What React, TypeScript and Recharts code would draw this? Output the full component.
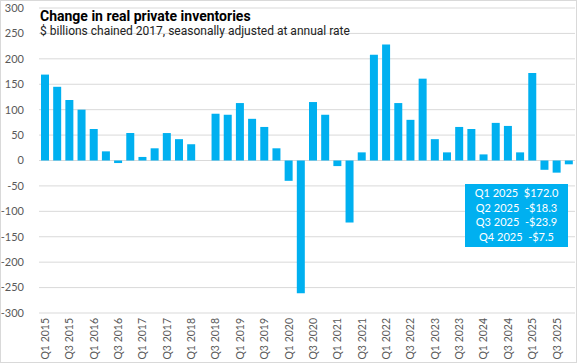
import { Bar, BarChart, CartesianGrid, XAxis, YAxis } from 'recharts'

const QUARTERS = ['Q1', 'Q2', 'Q3', 'Q4']
const YEARS = [2015, 2016, 2017, 2018, 2019, 2020, 2021, 2022, 2023, 2024, 2025]

const VALUES = [
  169, 145, 119, 100,
  62, 18, -5, 54,
  7, 24, 54, 42,
  32, 0, 92, 90,
  113, 82, 66, 24,
  -40, -261, 115, 90,
  -11, -122, 16, 208,
  228, 113, 80, 161,
  42, 16, 66, 62,
  12, 74, 68, 16,
  172.0, -18.3, -23.9, -7.5,
]

const Y_TICKS = [-300, -250, -200, -150, -100, -50, 0, 50, 100, 150, 200, 250, 300]

const NOTE_LINES = ['Q1 2025  $172.0', 'Q2 2025  -$18.3', 'Q3 2025  -$23.9', 'Q4 2025  -$7.5']

const BLUE = '#00B0F0'
const GRID = '#d9d9d9'
const AXIS_FONT = 'Lato, "Noto Sans", sans-serif'

const dados = YEARS.flatMap((ano, i) =>
  QUARTERS.map((q, j) => ({ trimestre: `${q} ${ano}`, valor: VALUES[i * 4 + j] }))
)

function RotatedTick({ x, y, payload }: any) {
  return (
    <text
      x={0}
      y={0}
      transform={`translate(${x},${y - 3}) rotate(-90)`}
      textAnchor="end"
      dy="0.36em"
      fontSize={10.5}
      fontFamily={AXIS_FONT}
      fill="#595959"
    >
      {payload.value}
    </text>
  )
}

export default function App() {
  return (
    <div
      style={{
        position: 'fixed',
        left: 0,
        top: 0,
        width: 577,
        height: 363,
        boxSizing: 'border-box',
        border: `1px solid ${GRID}`,
        background: '#fff',
      }}
    >
      <BarChart
        width={575}
        height={361}
        data={dados}
        margin={{ top: 7, right: 1, left: 0, bottom: 0 }}
      >
        <CartesianGrid vertical={false} stroke={GRID} />
        <XAxis
          dataKey="trimestre"
          interval={1}
          tick={<RotatedTick />}
          tickLine={false}
          axisLine={false}
          height={49}
        />
        <YAxis
          domain={[-300, 300]}
          ticks={Y_TICKS}
          width={38}
          tickLine={false}
          axisLine={false}
          tickMargin={9}
          tick={{ fontSize: 11, fontFamily: AXIS_FONT, fill: '#595959' }}
        />
        <Bar dataKey="valor" fill={BLUE} barSize={8} isAnimationActive={false} />
      </BarChart>

      <div
        style={{
          position: 'absolute',
          left: 39,
          top: 7,
          whiteSpace: 'nowrap',
          fontFamily: 'Roboto, "Noto Sans", sans-serif',
        }}
      >
        <div style={{ fontWeight: 700, fontSize: 14, lineHeight: '16px', color: '#000' }}>
          Change in real private inventories
        </div>
        <div style={{ fontSize: 12, lineHeight: '14px', color: '#222' }}>
          $ billions chained 2017, seasonally adjusted at annual rate
        </div>
      </div>

      <div
        style={{
          position: 'absolute',
          left: 464,
          top: 183,
          width: 103,
          height: 63,
          background: BLUE,
          color: '#fff',
          fontFamily: AXIS_FONT,
          fontSize: 11,
          lineHeight: '14.7px',
          textAlign: 'center',
          whiteSpace: 'pre',
          paddingTop: 2,
          boxSizing: 'border-box',
        }}
      >
        {NOTE_LINES.map((linha) => (
          <div key={linha}>{linha}</div>
        ))}
      </div>
    </div>
  )
}
